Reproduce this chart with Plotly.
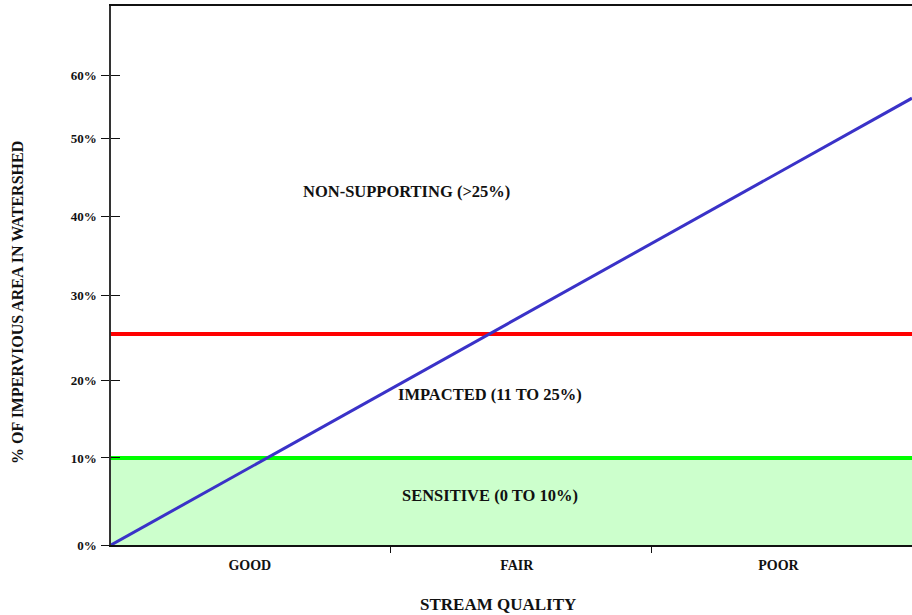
import plotly.graph_objects as go

# ---- data (axis units: chart scale, 0 at the origin) ----
x_extent = [0, 3]
y_tick_pos = [0, 11.14, 21.1, 32.0, 42.1, 52.1, 60.05]
y_tick_labels = ["0%", "10%", "20%", "30%", "40%", "50%", "60%"]
categories = ["GOOD", "FAIR", "POOR"]
category_pos = [0.52, 1.52, 2.50]
divider_pos = [1.045, 2.026]
sensitive_limit = 11.14   # 10% threshold
impacted_limit = 27.0     # 25% threshold
trend_x = [0, 3]
trend_y = [0, 57.2]
region_labels = ["NON-SUPPORTING (>25%)", "IMPACTED (11 TO 25%)", "SENSITIVE (0 TO 10%)"]
region_x = [1.108, 1.42, 1.42]
region_y = [45.2, 19.3, 6.4]

FONT = "Liberation Serif"

fig = go.Figure()
fig.add_trace(go.Scatter(x=x_extent, y=[sensitive_limit] * 2, mode="lines",
                         fill="tozeroy", fillcolor="#ccffcc",
                         line=dict(color="#00ff00", width=4), hoverinfo="skip"))
fig.add_trace(go.Scatter(x=x_extent, y=[impacted_limit] * 2, mode="lines",
                         line=dict(color="#ff0000", width=4), hoverinfo="skip"))
fig.add_trace(go.Scatter(x=trend_x, y=trend_y, mode="lines",
                         line=dict(color="#3a32c8", width=3), hoverinfo="skip"))
# invisible trace to activate overlay axis for inner tick marks
fig.add_trace(go.Scatter(x=[0], y=[0], yaxis="y2", mode="markers",
                         marker=dict(opacity=0), hoverinfo="skip"))

for t, xx, yy in zip(region_labels, region_x, region_y):
    fig.add_annotation(x=xx, y=yy, text="<b>%s</b>" % t, showarrow=False,
                       font=dict(family=FONT, size=16.5, color="#111"))

fig.add_annotation(xref="paper", yref="paper", x=0, y=0.449, xshift=-93,
                   text="<b>% OF IMPERVIOUS AREA IN WATERSHED</b>", textangle=-90,
                   showarrow=False, xanchor="center", yanchor="middle",
                   font=dict(family=FONT, size=16, color="#111"))
fig.add_annotation(xref="paper", yref="paper", x=0.483, y=-0.1095,
                   text="<b>STREAM QUALITY</b>", showarrow=False,
                   xanchor="center", yanchor="middle",
                   font=dict(family=FONT, size=17, color="#111"))

fig.update_layout(
    width=912, height=615,
    margin=dict(l=111, r=0, t=6, b=70),
    plot_bgcolor="white", paper_bgcolor="white",
    showlegend=False,
    xaxis=dict(range=[0, 3], showgrid=False, zeroline=False,
               showline=True, mirror=True, linecolor="#111", linewidth=1.5,
               tickmode="array", tickvals=category_pos,
               ticktext=["<b>%s</b>" % c for c in categories],
               ticks="", ticklabelstandoff=6,
               tickfont=dict(family=FONT, size=14, color="#111"),
               minor=dict(tickmode="array", tickvals=divider_pos, ticks="outside",
                          ticklen=6, tickcolor="#111", tickwidth=1)),
    yaxis=dict(range=[0, 69], showgrid=False, zeroline=False,
               showline=True, linecolor="#333", linewidth=1.5,
               tickmode="array", tickvals=y_tick_pos,
               ticktext=["<b>%s</b>" % t for t in y_tick_labels],
               ticks="outside", ticklen=8, tickcolor="#111", tickwidth=1,
               ticklabelstandoff=2,
               tickfont=dict(family=FONT, size=13, color="#111")),
    yaxis2=dict(range=[0, 69], overlaying="y", side="left", showgrid=False,
                zeroline=False, showline=False, tickmode="array",
                tickvals=y_tick_pos[1:], ticks="inside", ticklen=9,
                tickcolor="#111", tickwidth=1, showticklabels=False),
)

fig.write_html("out.html", config={"displayModeBar": False},
               post_script="document.body.style.margin='0';document.body.style.overflow='hidden';")
